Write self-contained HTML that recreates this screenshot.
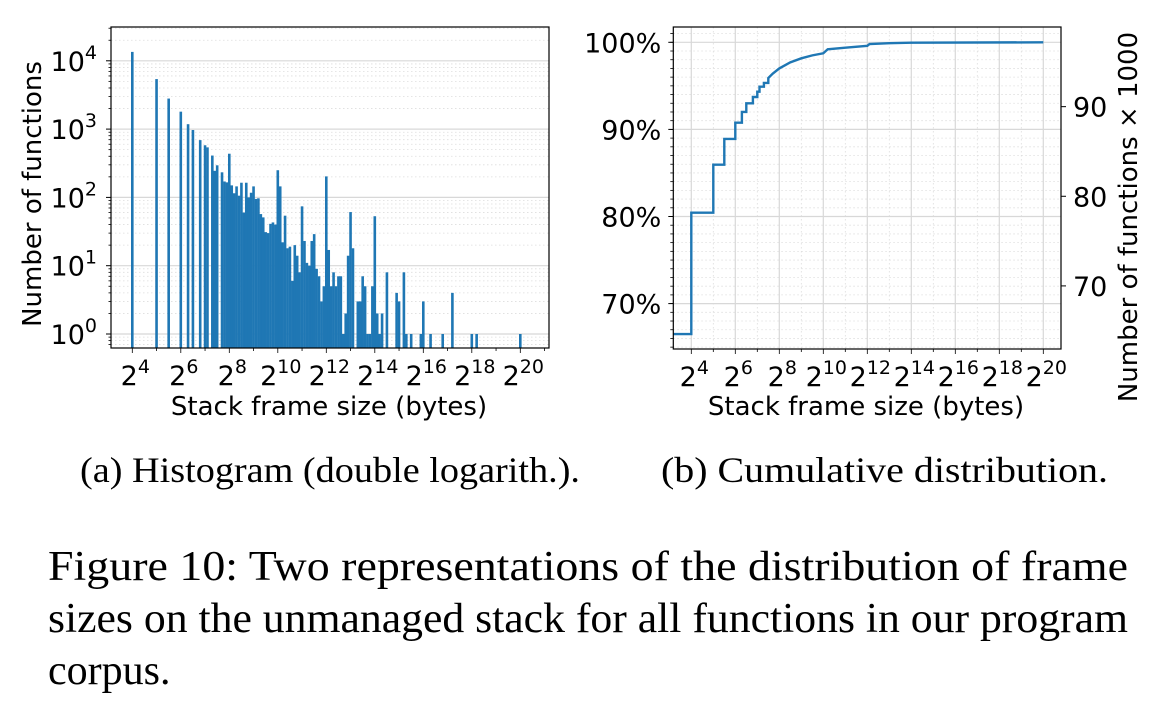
<!DOCTYPE html>
<html><head><meta charset="utf-8">
<style>
html,body{margin:0;padding:0;background:#fff;}
svg{display:block;}
.t{font-family:"DejaVu Sans","Liberation Sans",sans-serif;fill:#000;}
.s{font-family:"Liberation Serif",serif;fill:#000;}
</style></head>
<body>
<svg id="fig" width="1161" height="703" viewBox="0 0 1161 703" xmlns="http://www.w3.org/2000/svg">
<g id="histo"></g>
<g id="cdf"></g>
<text class="s" x="80" y="482" font-size="36" textLength="500" lengthAdjust="spacingAndGlyphs">(a) Histogram (double logarith.).</text>
<text class="s" x="661" y="482" font-size="36" textLength="447" lengthAdjust="spacingAndGlyphs">(b) Cumulative distribution.</text>
<text class="s" x="48" y="580" font-size="42" textLength="1080" lengthAdjust="spacingAndGlyphs">Figure 10: Two representations of the distribution of frame</text>
<text class="s" x="48" y="632" font-size="42" textLength="1080" lengthAdjust="spacingAndGlyphs">sizes on the unmanaged stack for all functions in our program</text>
<text class="s" x="48" y="684" font-size="42">corpus.</text>
</svg>
<script>
// Histogram data: log2(frame size) bins and counts
const histLog2 = [4,5,5.5,6,6.3,6.5,6.8,7,7.1,7.3,7.4,7.5,7.7,7.8,7.9,8,8.1,8.2,8.3,8.4,8.5,8.6,8.7,8.8,8.9,9,9.1,9.2,9.3,9.4,9.5,9.6,9.7,9.8,9.9,10,10.1,10.2,10.3,10.4,10.5,10.6,10.7,10.8,10.9,11,11.1,11.2,11.3,11.4,11.5,11.6,11.7,11.8,11.9,12,12.1,12.2,12.3,12.4,12.5,12.6,12.7,12.8,12.9,13,13.1,13.3,13.4,13.5,13.6,13.7,13.8,13.9,14,14.1,14.2,14.3,14.5,14.9,15,15.2,15.3,15.5,15.9,16,16.3,16.8,17.2,18,18.2,20];
const histCounts = [13500,5400,2800,1800,1180,970,690,580,540,410,245,295,233,171,166,436,150,115,145,106,164,60,164,100,117,145,95,97,57,51,31,30,41,43,40,250,145,22,54,18,19,6,20,14,8,74,23,11,10,23,29,9,7,3,5,203,17,5,8,5,7,7,1,2,14,61,18,3,3,7,5,1,1,5,53,2,1,2,8,4,3,8,1,1,1,3,1,1,4,1,1,1];
const histYTicks = [0,1,2,3,4];
const xTickExps = [4,6,8,10,12,14,16,18,20];
// CDF data: log2 size and cumulative percent
const cdfLog2 = [3.19,4,5,5.5,6,6.3,6.5,6.8,7,7.1,7.3,7.5,7.7,8,8.5,9,9.5,10,10.2,11,12,12.1,13,14,20];
const cdfPct = [66.5,80.44,85.95,88.9,90.77,92.0,93.0,93.72,94.33,94.9,95.33,95.9,96.4,97.0,97.7,98.16,98.5,98.74,99.2,99.38,99.6,99.8,99.9,99.95,100];
const cdfStepUntil = 7.5; // steps drawn up to here, smooth afterwards
const cdfYTicks = [70,80,90,100];
const cdfRightTicks = [70,80,90];
const totalFunctionsK = 97.18;

const NS="http://www.w3.org/2000/svg";
function mk(parent,tag,attrs,text){const e=document.createElementNS(NS,tag);for(const k in attrs)e.setAttribute(k,attrs[k]);if(text!==undefined)e.textContent=text;parent.appendChild(e);return e;}
const blue="#1f77b4";
function pow2Label(g,x,y){return function(e){
 const t=mk(g,'text',{class:'t',x:x+3,y:y,'font-size':27,'text-anchor':'middle'});
 
 
 mk(t,'tspan',{},'2');mk(t,'tspan',{dy:-12,'font-size':19},String(e));};}

// ---------- Histogram ----------
(function(){
const g=document.getElementById('histo');
const L=111,R=549,T=27,B=348;
const xs=v=>132.3+(v-4)*24.25;
const ys=v=>334-Math.log10(v)*68.3;
for(let d=-1;d<=4;d++)for(let m=2;m<=9;m++){const y=ys(m*Math.pow(10,d));if(y<T||y>B)continue;
 const l=mk(g,'line',{x1:L,x2:R,y1:y,y2:y,stroke:'#ddd','stroke-width':0.8,'stroke-dasharray':'1.5,2.5'});
 
 
 mk(g,'line',{x1:L-2.5,x2:L,y1:y,y2:y,stroke:'#000','stroke-width':0.8});}
histYTicks.forEach(e=>{const y=ys(Math.pow(10,e));
 const l=mk(g,'line',{x1:L,x2:R,y1:y,y2:y,stroke:'#d8d8d8','stroke-width':1.2});
 
 
 mk(g,'line',{x1:L-5,x2:L,y1:y,y2:y,stroke:'#000','stroke-width':1});
 const t=mk(g,'text',{class:'t',x:L-14,y:y+10,'font-size':27,'text-anchor':'end'});
 
 
 mk(t,'tspan',{},'10');mk(t,'tspan',{dy:-12,'font-size':19},String(e));});
histLog2.forEach((v,i)=>{const y=ys(histCounts[i]);
 const r=mk(g,'rect',{x:xs(v)-1.3,y:y,width:2.6,height:B-y,fill:blue});
 
 });
for(let e=4;e<=21;e++){const x=xs(e);mk(g,'line',{x1:x,x2:x,y1:B,y2:B+(e%2===0?5:3),stroke:'#000','stroke-width':0.8});}
xTickExps.forEach(e=>pow2Label(g,xs(e),385)(e));
const f=mk(g,'rect',{x:L,y:T,width:R-L,height:B-T,fill:'none',stroke:'#000','stroke-width':1.2});


const xt=mk(g,'text',{class:'t',x:329,y:415,'font-size':26,'text-anchor':'middle'},'Stack frame size (bytes)');


const yt=mk(g,'text',{class:'t',x:0,y:0,'font-size':26,'text-anchor':'middle',transform:'translate(41,194) rotate(-90)'},'Number of functions');


})();

// ---------- CDF ----------
(function(){
const g=document.getElementById('cdf');
const L=673.3,R=1061,T=27,B=349;
const xs=v=>691.3+(v-4)*22.0;
const ys=p=>42.3+(100-p)*8.71;
const ysK=k=>ys(k/totalFunctionsK*100);
for(let p=65;p<=101;p++){const y=ys(p);
 if(p%10!==0){const l=mk(g,'line',{x1:L,x2:R,y1:y,y2:y,stroke:'#ddd','stroke-width':0.8,'stroke-dasharray':'1.5,2.5'});
 
 }
 mk(g,'line',{x1:L-3,x2:L,y1:y,y2:y,stroke:'#000','stroke-width':0.8});}
for(let e=3;e<=21;e++){const x=xs(e);if(x<L||x>R)continue;
 const l=mk(g,'line',{x1:x,x2:x,y1:T,y2:B,stroke:e%2===0?'#d8d8d8':'#ddd','stroke-width':e%2===0?1.2:0.8,'stroke-dasharray':e%2===0?'none':'1.5,2.5'});
 
 
 mk(g,'line',{x1:x,x2:x,y1:B,y2:B+(e%2===0?5:3),stroke:'#000','stroke-width':0.8});}
cdfYTicks.forEach(p=>{const y=ys(p);
 const l=mk(g,'line',{x1:L,x2:R,y1:y,y2:y,stroke:'#d8d8d8','stroke-width':1.2});
 
 
 mk(g,'line',{x1:L-5,x2:L,y1:y,y2:y,stroke:'#000','stroke-width':1});
 const t=mk(g,'text',{class:'t',x:L-12,y:y+10,'font-size':27,'text-anchor':'end'},p+'%');
 
 });
cdfRightTicks.forEach(k=>{const y=ysK(k);
 mk(g,'line',{x1:R,x2:R+5,y1:y,y2:y,stroke:'#000','stroke-width':1});
 const t=mk(g,'text',{class:'t',x:R+12,y:y+10,'font-size':27},String(k));
 
 });
let d='';cdfLog2.forEach((v,i)=>{const x=xs(v),y=ys(cdfPct[i]);
 if(i===0)d+='M'+x+','+y;
 else if(v<=cdfStepUntil)d+=' H'+x+' V'+y;
 else d+=' L'+x+','+y;});
const p=mk(g,'path',{d:d,fill:'none',stroke:blue,'stroke-width':2.4});


xTickExps.forEach(e=>pow2Label(g,xs(e),386)(e));
const f=mk(g,'rect',{x:L,y:T,width:R-L,height:B-T,fill:'none',stroke:'#000','stroke-width':1.2});


const xt=mk(g,'text',{class:'t',x:866,y:415,'font-size':26,'text-anchor':'middle'},'Stack frame size (bytes)');


const yt=mk(g,'text',{class:'t',x:0,y:0,'font-size':26,'text-anchor':'middle',transform:'translate(1137,217) rotate(-90)'},'Number of functions × 1000');


})();
</script>
</body></html>
